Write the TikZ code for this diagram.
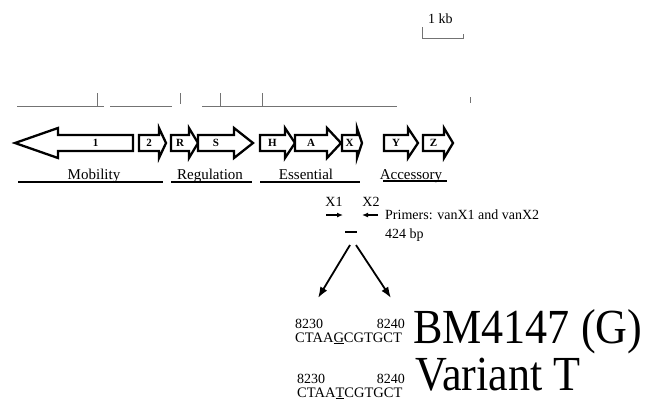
\documentclass[tikz,border=0pt]{standalone}
\usepackage{fontspec}
\setmainfont{Liberation Serif}
\usetikzlibrary{arrows.meta}
\tikzset{
    gene/.style={draw, line width=2.3bp, fill=white},
    genelbl/.style={font=\fontsize{11bp}{12bp}\selectfont\bfseries, inner sep=0},
    grp/.style={font=\fontsize{15bp}{18bp}\selectfont, anchor=base, inner sep=0},
    lbl/.style={font=\fontsize{14bp}{16bp}\selectfont, inner sep=0},
    num/.style={font=\fontsize{14bp}{16bp}\selectfont, inner sep=0},
    seq/.style={font=\fontsize{14.5bp}{16bp}\selectfont, inner sep=0, anchor=base west},
    big/.style={font=\fontsize{49bp}{50bp}\selectfont, inner sep=0, anchor=base west, xscale=0.9},
    scaleln/.style={draw=black!55, line width=0.8bp},
    primer/.style={line width=1.3bp, -{Latex[length=6bp,width=5bp]}},
    split/.style={line width=1.8bp, -{Latex[length=11bp,width=8bp]}}
}
\begin{document}
\begin{tikzpicture}[x=1bp,y=-1bp]
    \useasboundingbox (0,0) rectangle (654,406);

    \node[lbl, anchor=base west] (kb) at (428,23) {1 kb};
    \draw[scaleln] (422,27) -- (422,38) -- (463,38) -- (463,34);

    \draw[scaleln] (17,106) -- (104,106) (110,106) -- (172,106) (202,106) -- (397,106);
    \foreach \x\a\b in {97/93/106, 180/93/104, 220/93/106, 262/93/106, 470/97/103}{
      \draw[scaleln] (\x,\a) -- (\x,\b);
    }

    \foreach \s\b\t\n in {
        133/58/15/1,
        139/159/166/2,
        171/189/198/R,
        198/234/253/S,
        260/285/295/H,
        295/327/341/A,
        342/357/362/X,
        384/408/418/Y,
        423/444/453/Z}{
      \draw[gene] (\s,135) -- (\b,135) -- (\b,128) -- (\t,143) -- (\b,158) -- (\b,151) -- (\s,151) -- cycle;
      \node[genelbl] (g\n) at ({(\s+\b)/2},143) {\n};
    }

    \foreach \x\a\b\y\w in {
        94/18/163/182/Mobility,
        210/171/252/182/Regulation,
        306/260/360/182/Essential,
        411/383/447/181/Accessory}{
      \node[grp] (grp-\w) at (\x,179) {\w};
      \draw[line width=1.5bp] (\a,\y) -- (\b,\y);
    }

    \node[lbl] (x1) at (334,202) {X1};
    \node[lbl] (x2) at (371,202) {X2};
    \coordinate (x1a) at (326,215);
    \coordinate (x1b) at (343,215);
    \coordinate (x2a) at (378,215);
    \coordinate (x2b) at (362,215);
    \draw[primer] (x1a) -- (x1b);
    \draw[primer] (x2a) -- (x2b);
    \node[lbl, anchor=west] (prm) at (385,215) {Primers: vanX1 and vanX2};
    \node[lbl, anchor=west] (bp) at (385,235) {424 bp};
    \node[fill, minimum width=12bp, minimum height=2.8bp, inner sep=0] (amp) at (351,232) {};

    \coordinate (dl) at (350,245);
    \coordinate (dr) at (356,245);
    \coordinate (tl) at (318,298);
    \coordinate (tr) at (391,298);
    \draw[split] (dl) -- (tl);
    \draw[split] (dr) -- (tr);

    \node[num, anchor=base west] (pa1) at (295,328) {8230};
    \node[num, anchor=base east] (pb1) at (405,328) {8240};
    \node[seq] (sq1) at (295,342) {CTAA\underline{G}CGTGCT};
    \node[big] (bm) at (413,343) {BM4147 (G)};

    \node[num, anchor=base west] (pa2) at (297,383) {8230};
    \node[num, anchor=base east] (pb2) at (405,383) {8240};
    \node[seq] (sq2) at (297,397) {CTAA\underline{T}CGTGCT};
    \node[big] (vt) at (415,390) {Variant T};
  \end{tikzpicture}
\end{document}
